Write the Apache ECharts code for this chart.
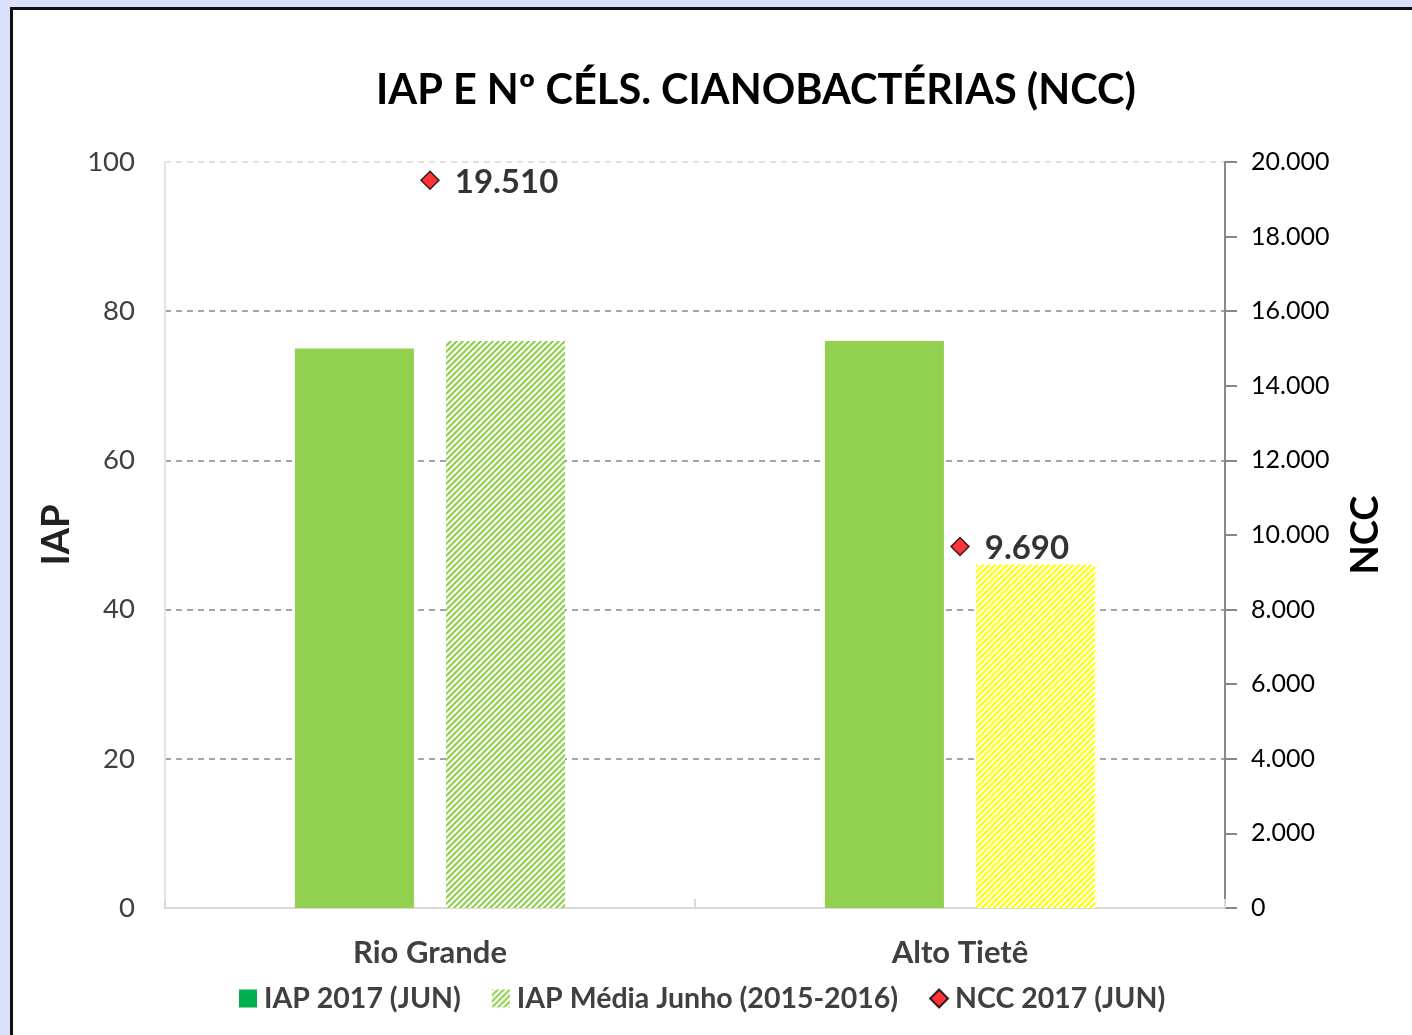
<!DOCTYPE html>
<html>
<head>
<meta charset="utf-8">
<script src="https://cdn.jsdelivr.net/npm/echarts@6/dist/echarts.min.js"></script>
<style>
  html, body { margin: 0; padding: 0; background: #d9e1fb; overflow: hidden; }
  #frame { position: absolute; left: 10px; top: 7px; width: 1420px; height: 1040px; background: #fff; border: 3px solid #111; }
  #chart { position: absolute; left: 0; top: 0; width: 1412px; height: 1035px; }
</style>
</head>
<body>
<div id="frame"></div>
<div id="chart"></div>
<script>
// dados
const categorias = ['Rio Grande', 'Alto Tietê'];
const iap2017 = [75, 76];
const iapMedia = [76, 46];
const ncc2017 = [19510, 9690];
const nomesSeries = ['IAP 2017 (JUN)', 'IAP Média Junho (2015-2016)', 'NCC 2017 (JUN)'];

// hachura diagonal
function hatch(color) {
  let c = document.createElement('canvas');
  c.width = 6; c.height = 6;
  let ctx = c.getContext('2d');
  ctx.fillStyle = '#fff';
  ctx.fillRect(0, 0, 6, 6);
  ctx.strokeStyle = color;
  ctx.lineWidth = 2.2;
  [[-6, 6, 6, -6], [0, 6, 6, 0], [0, 12, 12, 0]].forEach(l => {
    ctx.beginPath();
    ctx.moveTo(l[0], l[1]);
    ctx.lineTo(l[2], l[3]);
    ctx.stroke();
  });
  return { image: c, repeat: 'repeat' };
}

function milhar(v) {
  return String(v).replace(/\B(?=(\d{3})+(?!\d))/g, '.');
}

const fonte = 'Lato, "Open Sans", sans-serif';
const chart = echarts.init(document.getElementById('chart'));
const hatchVerde = hatch('#92d050');
const hatchAmarelo = hatch('#ffff00');

let option = {
  textStyle: { fontFamily: fonte },
  title: {
    text: 'IAP E Nº CÉLS. CIANOBACTÉRIAS (NCC)',
    left: 371,
    top: 65,
    textStyle: { fontFamily: fonte, fontSize: 41.5, fontWeight: 'bold', color: '#000' }
  },
  legend: {
    bottom: 17,
    left: 234,
    itemWidth: 18,
    itemHeight: 18,
    itemGap: 31,
    textStyle: { fontFamily: fonte, fontSize: 28.5, fontWeight: 'bold', color: '#404040', padding: [0, 0, 0, 2] },
    data: [
      { name: nomesSeries[0], icon: 'rect', itemStyle: { color: '#00b050' } },
      { name: nomesSeries[1], icon: 'rect', itemStyle: { color: hatchVerde } },
      { name: nomesSeries[2], icon: 'diamond' }
    ]
  },
  grid: { left: 165, top: 162, width: 1060, height: 746 },
  xAxis: {
    type: 'category',
    data: categorias,
    axisLine: { lineStyle: { color: '#d9d9d9', width: 2 } },
    axisTick: { show: true, inside: true, length: 9, lineStyle: { color: '#d9d9d9', width: 2 } },
    axisLabel: { margin: 29, fontFamily: fonte, fontSize: 31, fontWeight: 'bold', color: '#404040' }
  },
  yAxis: [
    {
      type: 'value',
      min: 0, max: 100, interval: 20,
      name: 'IAP',
      nameLocation: 'middle',
      nameRotate: 90,
      nameGap: 80,
      nameTextStyle: { fontFamily: fonte, fontSize: 38, fontWeight: 'bold', color: '#222' },
      axisLine: { show: true, lineStyle: { color: '#e6e6dc', width: 2 } },
      axisTick: { show: false },
      axisLabel: { margin: 30, fontFamily: fonte, fontSize: 27.5, color: '#404040' },
      splitLine: {
        lineStyle: { type: [6, 5], width: 1.5, color: ['#888', '#888', '#888', '#888', '#888', '#d8d8c8'] }
      }
    },
    {
      type: 'value',
      min: 0, max: 20000, interval: 2000,
      name: 'NCC',
      nameLocation: 'middle',
      nameRotate: 90,
      nameGap: 122,
      nameTextStyle: { fontFamily: fonte, fontSize: 38, fontWeight: 'bold', color: '#000' },
      axisLine: { show: true, lineStyle: { color: '#888', width: 2 } },
      axisTick: { show: true, length: 12, lineStyle: { color: '#888', width: 2 } },
      axisLabel: { margin: 26, fontFamily: fonte, fontSize: 25, color: '#000', formatter: milhar },
      splitLine: { show: false }
    }
  ],
  series: [
    {
      name: nomesSeries[0],
      type: 'bar',
      barWidth: 119,
      barGap: '27%',
      itemStyle: { color: '#92d050' },
      data: iap2017
    },
    {
      name: nomesSeries[1],
      type: 'bar',
      barWidth: 119,
      itemStyle: { color: hatchVerde },
      data: iapMedia.map((v, i) => ({
        value: v,
        itemStyle: { color: i === 0 ? hatchVerde : hatchAmarelo }
      }))
    },
    {
      name: nomesSeries[2],
      type: 'scatter',
      yAxisIndex: 1,
      symbol: 'diamond',
      symbolSize: 18,
      z: 5,
      itemStyle: { color: '#ff0000', borderColor: '#000', borderWidth: 1.5 },
      label: {
        show: true,
        position: 'right',
        distance: 15,
        offset: [0, 2],
        fontFamily: fonte,
        fontSize: 33,
        fontWeight: 'bold',
        color: '#000',
        formatter: p => milhar(p.value)
      },
      data: ncc2017
    }
  ]
};
chart.setOption(option);
</script>
</body>
</html>
